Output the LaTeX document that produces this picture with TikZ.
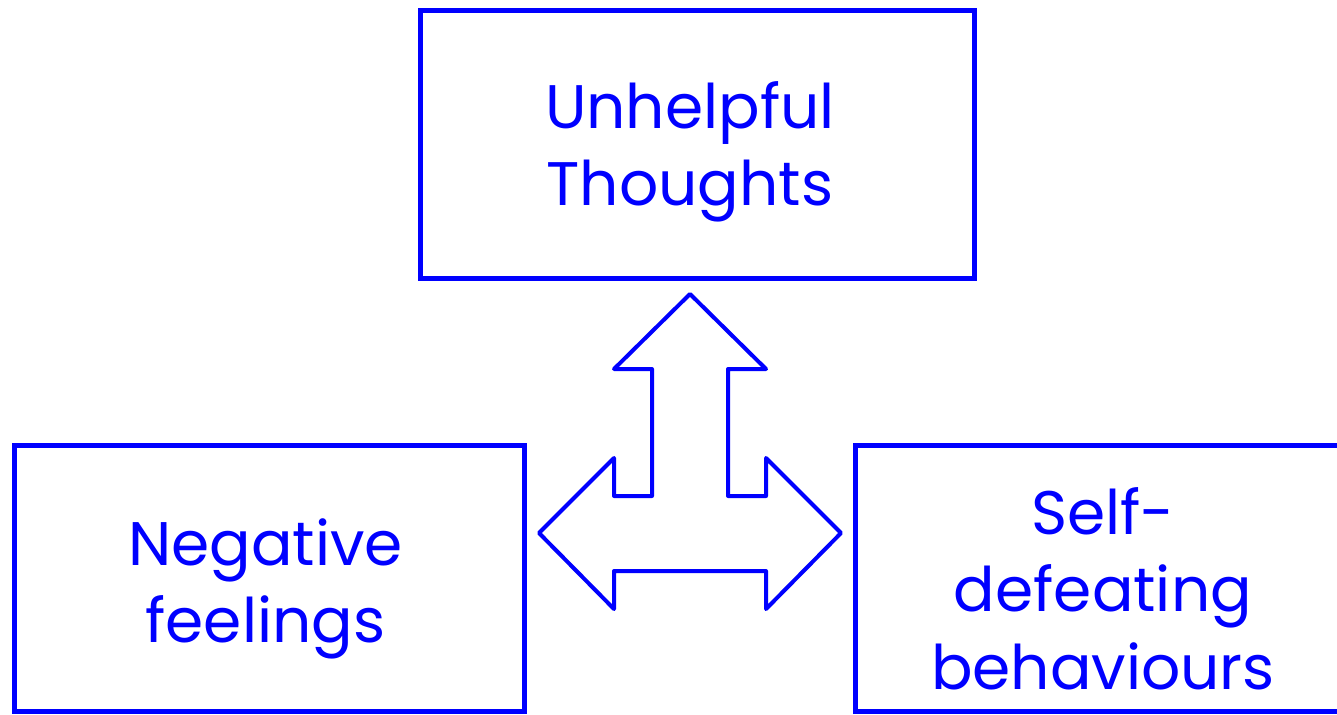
\documentclass[tikz,border=0pt]{standalone}
\usepackage{fontspec}
\setmainfont{Poppins}
\tikzset{
  thinkbox/.style={draw=blue,line width=0.1cm,inner sep=0pt},
  boxtext/.style={text=blue,align=center,inner sep=0pt,font=\fontsize{35}{44}\selectfont},
  arrowline/.style={draw=blue,line width=0.08cm,line join=round}
}
\begin{document}
\begin{tikzpicture}[x=0.02cm,y=-0.02cm]
        % the page, 1337 x 714
        \useasboundingbox (0,0) rectangle (1337,714);
        %% the three boxes
        \node[thinkbox,minimum width=11.1cm,minimum height=5.38cm] (thoughts) at (697.5,144.5) {};
        \node[thinkbox,minimum width=10.22cm,minimum height=5.34cm] (feelings) at (269.5,578.5) {};
        \node[thinkbox,minimum width=9.92cm,minimum height=5.34cm] (behaviours) at (1103,578.5) {};
        %% their texts
        \node[boxtext] (thoughtstext) at (690,151.5) {Unhelpful\\Thoughts};
        \node[boxtext] (feelingstext) at (265.5,589) {Negative\\feelings};
        \node[boxtext] (behaviourstext) at (1103,588.5) {Self-\\defeating\\behaviours};
        %% the three-way arrow
        \coordinate (hub) at (690,533);
        \draw[arrowline,shift={(hub)}] (0,-239) -- (76,-164) -- (38,-164) -- (38,-37) -- (76,-37) -- (76,-75)
          -- (151,0) -- (76,76) -- (76,38) -- (-76,38) -- (-76,76) -- (-151,0) -- (-76,-75) -- (-76,-37)
          -- (-38,-37) -- (-38,-164) -- (-76,-164) -- cycle;
      \end{tikzpicture}
\end{document}
